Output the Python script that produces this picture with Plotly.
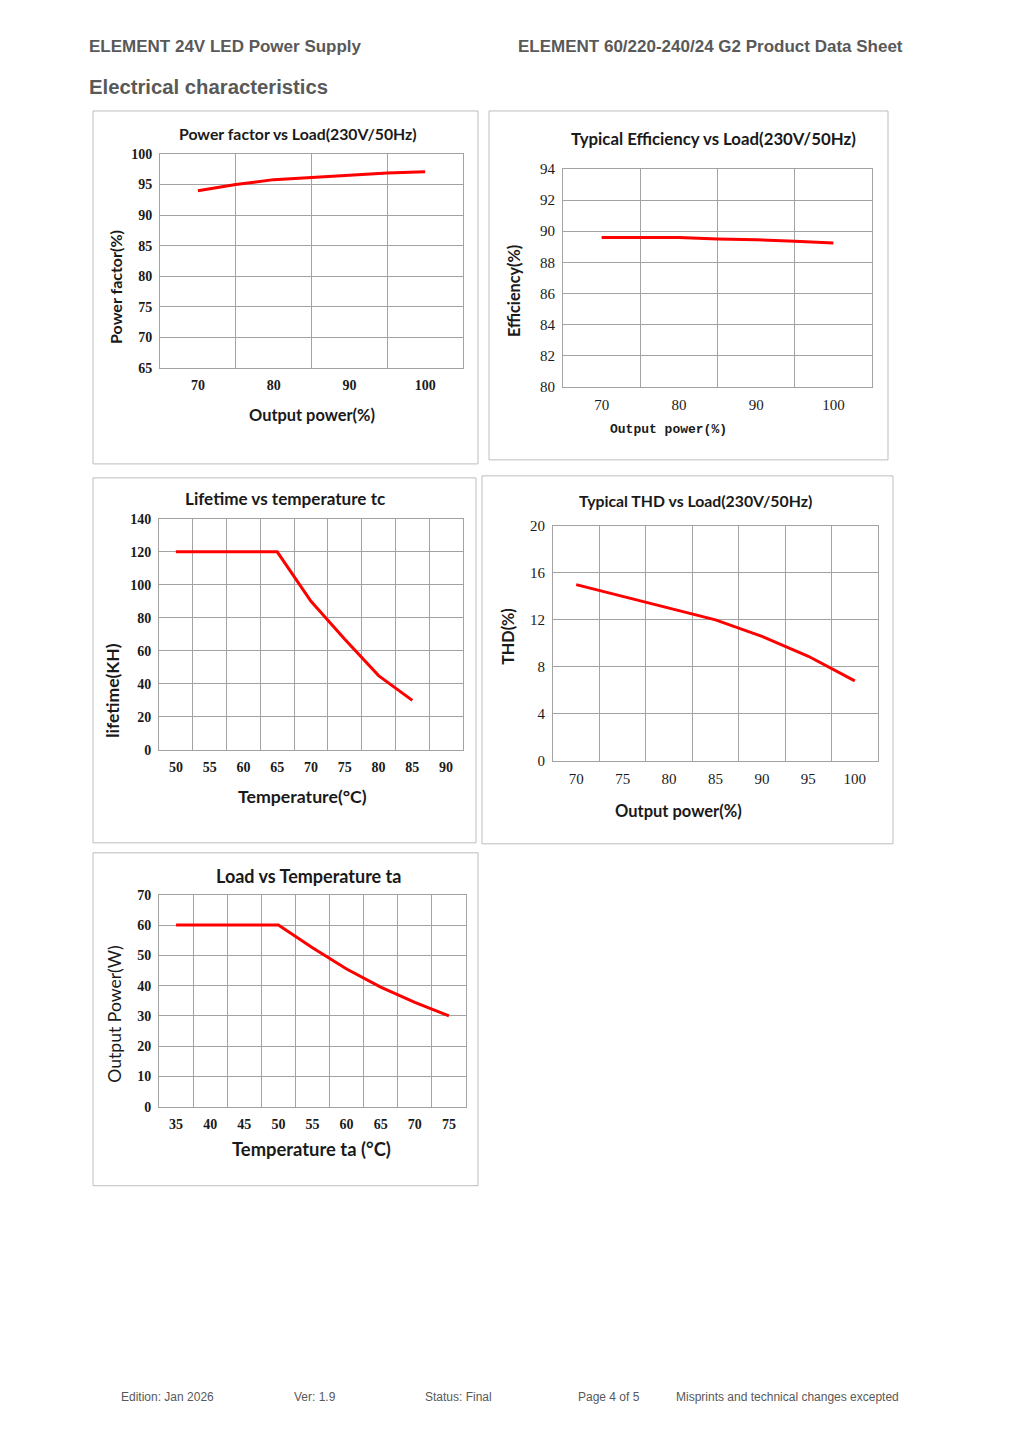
"""Electrical characteristics page of the ELEMENT 60/220-240/24 G2 data sheet."""

import plotly.graph_objects as go

# page is 1018x1440; the figure sits inside the browser body margin
PAGE_W, PAGE_H = 1018, 1440
PAD = 8
W, H = PAGE_W - 2 * PAD, PAGE_H - 2 * PAD
# measured: the page photo puts figure y=0 at ~15px and squeezes y by ~0.989
Y0, SY = 15.0, 0.989

# ------------------------------------------------------------------ #
# Curve data                                  #
# ------------------------------------------------------------------ #
pf_load = [70, 75, 80, 85, 90, 95, 100]
pf_value = [94.0, 95.0, 95.8, 96.2, 96.6, 96.9, 97.1]

eff_load = [70, 80, 85, 90, 95, 100]
eff_value = [89.6, 89.6, 89.5, 89.45, 89.35, 89.25]

life_temp = [50, 55, 60, 65, 70, 75, 80, 85]
life_khours = [120, 120, 120, 120, 90, 67, 45, 30]

thd_load = [70, 75, 80, 85, 90, 95, 100]
thd_value = [15.0, 14.0, 13.0, 12.0, 10.6, 8.9, 6.8]

derate_temp = [35, 40, 45, 50, 55, 60, 65, 70, 75]
derate_power = [60, 60, 60, 60, 52.5, 45.5, 39.5, 34.5, 30]

# tick labels
pf_xticks = [70, 80, 90, 100]
pf_yticks = [65, 70, 75, 80, 85, 90, 95, 100]
eff_xticks = [70, 80, 90, 100]
eff_yticks = [80, 82, 84, 86, 88, 90, 92, 94]
life_xticks = [50, 55, 60, 65, 70, 75, 80, 85, 90]
life_yticks = [0, 20, 40, 60, 80, 100, 120, 140]
thd_xticks = [70, 75, 80, 85, 90, 95, 100]
thd_yticks = [0, 4, 8, 12, 16, 20]
derate_xticks = [35, 40, 45, 50, 55, 60, 65, 70, 75]
derate_yticks = [0, 10, 20, 30, 40, 50, 60, 70]

RED = "#ff0000"
GRID = "#a3a3a3"
FRAME = "#bdbdbd"
TEXT = "#1a1a1a"
GREY = "#595959"


def fx(px):
    """page pixel -> paper x"""
    return (px - PAD) / W


def fy(py):
    """page pixel -> paper y"""
    return 1 - (py - Y0) / SY / H


fig = go.Figure()
annotations = []
shapes = []


def text(x, y, s, size, family, color=TEXT, weight="normal", angle=0, xanchor="center"):
    annotations.append(dict(
        x=fx(x), y=fy(y), xref="paper", yref="paper", text=s, showarrow=False,
        xanchor=xanchor, yanchor="middle", textangle=angle,
        font=dict(size=size, family=family, color=color, weight=weight),
    ))


def panel(n, xs, ys, plot, frame, xrange, yrange, xticks, yticks, xgrid, tickfont):
    """One framed chart: plot=(left, top, right, bottom) in page pixels."""
    left, top, right, bottom = plot
    xa = "xaxis" if n == 1 else f"xaxis{n}"
    ya = "yaxis" if n == 1 else f"yaxis{n}"
    ax_id = "" if n == 1 else str(n)
    fig.add_trace(go.Scatter(
        x=xs, y=ys, mode="lines", line=dict(color=RED, width=3),
        xaxis="x" + ax_id, yaxis="y" + ax_id, showlegend=False, hoverinfo="skip",
    ))
    fig.update_layout({
        xa: dict(
            domain=[fx(left), fx(right)], anchor="y" + ax_id, range=xrange,
            tickmode="array", tickvals=xticks, showgrid=False, zeroline=False,
            showline=True, mirror=True, linecolor=GRID, linewidth=1,
            ticks="", ticklabelstandoff=4, tickfont=tickfont,
            minor=dict(tickmode="array", tickvals=xgrid, showgrid=True,
                       gridcolor=GRID, gridwidth=1),
        ),
        ya: dict(
            domain=[fy(bottom), fy(top)], anchor="x" + ax_id, range=yrange,
            tickmode="array", tickvals=yticks, showgrid=True, gridcolor=GRID,
            gridwidth=1, zeroline=False, showline=True, mirror=True,
            linecolor=GRID, linewidth=1, ticks="", ticklabelstandoff=4,
            tickfont=tickfont,
        ),
    })
    fl, ft, fr, fb = frame
    shapes.append(dict(type="rect", xref="paper", yref="paper",
                       x0=fx(fl), x1=fx(fr), y0=fy(fb), y1=fy(ft),
                       line=dict(color=FRAME, width=1)))


serif_bold = dict(family="Liberation Serif", size=14, color=TEXT, weight="bold")
serif = dict(family="Liberation Serif", size=15, color=TEXT)
calibri = "Lato"

# Power factor vs load
panel(1, pf_load, pf_value, (160, 153, 463, 367), (93, 110, 478, 463),
      [65, 105], [65, 100], pf_xticks, pf_yticks, [75, 85, 95], serif_bold)
text(298, 133, "Power factor vs Load(230V/50Hz)", 15.8, calibri, weight="bold")
text(312, 414, "Output power(%)", 16.4, calibri, weight="bold")
text(116, 286, "Power factor(%)", 16, calibri, weight="bold", angle=-90)

# Efficiency vs load
panel(2, eff_load, eff_value, (563, 168, 872, 386), (489, 110, 888, 459),
      [65, 105], [80, 94], eff_xticks, eff_yticks, [75, 85, 95], serif)
text(713, 138, "Typical Efficiency vs Load(230V/50Hz)", 16.8, calibri, weight="bold")
text(668, 429, "Output power(%)", 13, "Liberation Mono", weight="bold")
text(514, 290, "Efficiency(%)", 16.2, calibri, weight="bold", angle=-90)

# Lifetime vs case temperature
panel(3, life_temp, life_khours, (159, 518, 463, 749), (93, 477, 476, 842),
      [47.5, 92.5], [0, 140], life_xticks, life_yticks,
      [52.5, 57.5, 62.5, 67.5, 72.5, 77.5, 82.5, 87.5], serif_bold)
text(285, 498, "Lifetime vs temperature tc", 17.1, calibri, weight="bold")
text(302, 796, "Temperature(°C)", 17.7, calibri, weight="bold")
text(113, 690, "lifetime(KH)", 17.5, calibri, weight="bold", angle=-90)

# THD vs load
panel(4, thd_load, thd_value, (553, 525, 878, 760), (482, 475, 893, 843),
      [67.5, 102.5], [0, 20], thd_xticks, thd_yticks,
      [72.5, 77.5, 82.5, 87.5, 92.5, 97.5], serif)
text(695, 500, "Typical THD vs Load(230V/50Hz)", 15.8, calibri, weight="bold")
text(678, 810, "Output power(%)", 16.5, calibri, weight="bold")
text(508, 636, "THD(%)", 16.2, calibri, weight="bold", angle=-90)

# Load vs ambient temperature
panel(5, derate_temp, derate_power, (159, 894, 466, 1106), (93, 852, 478, 1185),
      [32.5, 77.5], [0, 70], derate_xticks, derate_yticks,
      [37.5, 42.5, 47.5, 52.5, 57.5, 62.5, 67.5, 72.5], serif_bold)
text(308, 875, "Load vs Temperature ta", 18, calibri, weight="bold")
text(311, 1148, "Temperature ta (°C)", 18.4, calibri, weight="bold")
text(115, 1013, "Output Power(W)", 17.6, calibri, angle=-90)

# page header and footer
text(87, 46, "ELEMENT 24V LED Power Supply", 17, "Liberation Sans", GREY, "bold", xanchor="left")
text(905, 46, "ELEMENT 60/220-240/24 G2 Product Data Sheet", 17, "Liberation Sans", GREY, "bold",
     xanchor="right")
text(87, 86, "Electrical characteristics", 20.3, "Liberation Sans", GREY, "bold", xanchor="left")

footer = [(119, "Edition: Jan 2026"), (292, "Ver: 1.9"), (423, "Status: Final"),
          (576, "Page 4 of 5"), (674, "Misprints and technical changes excepted")]
for fx_px, s in footer:
    text(fx_px, 1396, s, 12, "Liberation Sans", GREY, xanchor="left")

fig.update_layout(
    width=W, height=H, margin=dict(l=0, r=0, t=0, b=0),
    paper_bgcolor="white", plot_bgcolor="white",
    annotations=annotations, shapes=shapes, showlegend=False,
)

fig.write_html("out.html")
